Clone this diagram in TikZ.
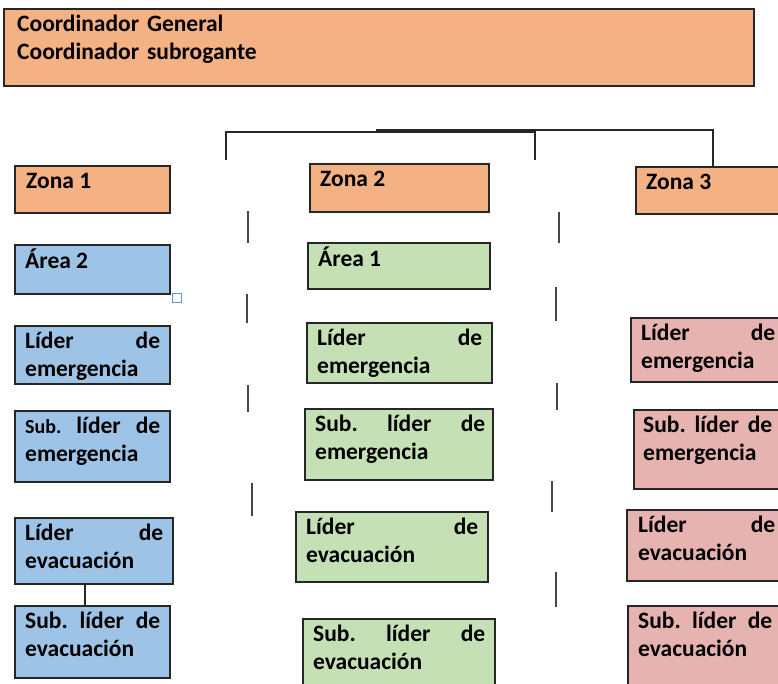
\documentclass[tikz,border=0pt]{standalone}
\usepackage{fontspec}
\setmainfont{Carlito}
\definecolor{orangefill}{HTML}{F4B183}
\definecolor{bluefill}{HTML}{9DC3E6}
\definecolor{greenfill}{HTML}{C5E0B4}
\definecolor{pinkfill}{HTML}{E6B3B1}
\definecolor{edge}{HTML}{262626}
\definecolor{handle}{HTML}{5B9BD5}
\newcommand\gapfill{\hskip 0pt plus 1fill\relax}
\newcommand\fst{\rule{0pt}{17pt}}
\tikzset{
  bx/.style={draw=edge, line width=1.4pt, anchor=north west, inner sep=0pt, outer sep=0pt},
  tx/.style={anchor=north west, inner sep=0pt, align=left, font=\fontsize{23.5}{28}\selectfont\bfseries},
  sepline/.style={draw=edge!85, line width=2pt},
  conn/.style={draw=edge, line width=2pt},
}
\begin{document}
\begin{tikzpicture}[x=1pt,y=-1pt]
\useasboundingbox (0,0) rectangle (778,683);
\clip (0,0) rectangle (778,683);
% top box
\node[bx, fill=orangefill, minimum width=750pt, minimum height=77pt] (top) at (4,9) {};
\node[tx, text width=700pt] (ttop) at ([shift={(13pt,-5pt)}]top.north west) {\fst Coordinador General\\Coordinador subrogante};
% zones
\node[bx, fill=orangefill, minimum width=155pt, minimum height=47pt] (z1) at (15,166) {};
\node[tx] (tz1) at ([shift={(11pt,-5pt)}]z1.north west) {\fst Zona 1};
\node[bx, fill=orangefill, minimum width=179pt, minimum height=48pt] (z2) at (310,164) {};
\node[tx] (tz2) at ([shift={(10pt,-5pt)}]z2.north west) {\fst Zona 2};
\node[bx, fill=orangefill, minimum width=154pt, minimum height=47pt] (z3) at (636,167) {};
\node[tx] (tz3) at ([shift={(10pt,-5pt)}]z3.north west) {\fst Zona 3};
% left column
\node[bx, fill=bluefill, minimum width=155pt, minimum height=49pt] (a2) at (15,245) {};
\node[tx] (ta2) at ([shift={(10pt,-4pt)}]a2.north west) {\fst Área 2};
\node[bx, fill=bluefill, minimum width=155pt, minimum height=58pt] (le1) at (15,326) {};
\node[tx, text width=135pt] (tle1) at ([shift={(10pt,-5pt)}]le1.north west) {\fst Líder\gapfill de\\emergencia};
\node[bx, fill=bluefill, minimum width=155pt, minimum height=71pt] (se1) at (15,411) {};
\node[tx, text width=135pt] (tse1) at ([shift={(10pt,-5pt)}]se1.north west) {\fst{\fontsize{20}{28}\selectfont Sub.}\gapfill líder\gapfill de\\emergencia};
\node[bx, fill=bluefill, minimum width=158pt, minimum height=66pt] (lv1) at (15,518) {};
\node[tx, text width=138pt] (tlv1) at ([shift={(10pt,-5pt)}]lv1.north west) {\fst Líder\gapfill de\\evacuación};
\node[bx, fill=bluefill, minimum width=155pt, minimum height=72pt] (sv1) at (15,606) {};
\node[tx, text width=135pt] (tsv1) at ([shift={(10pt,-5pt)}]sv1.north west) {\fst Sub.\gapfill líder\gapfill de\\evacuación};
% middle column
\node[bx, fill=greenfill, minimum width=182pt, minimum height=46pt] (a1) at (308,243) {};
\node[tx] (ta1) at ([shift={(10pt,-4pt)}]a1.north west) {\fst Área 1};
\node[bx, fill=greenfill, minimum width=185pt, minimum height=60pt] (le2) at (307,323) {};
\node[tx, text width=165pt] (tle2) at ([shift={(10pt,-5pt)}]le2.north west) {\fst Líder\gapfill de\\emergencia};
\node[bx, fill=greenfill, minimum width=188pt, minimum height=71pt] (se2) at (305,409) {};
\node[tx, text width=170pt] (tse2) at ([shift={(10pt,-5pt)}]se2.north west) {\fst Sub.\gapfill líder\gapfill de\\emergencia};
\node[bx, fill=greenfill, minimum width=192pt, minimum height=70pt] (lv2) at (296,512) {};
\node[tx, text width=172pt] (tlv2) at ([shift={(10pt,-5pt)}]lv2.north west) {\fst Líder\gapfill de\\evacuación};
\node[bx, fill=greenfill, minimum width=192pt, minimum height=75pt] (sv2) at (303,619) {};
\node[tx, text width=172pt] (tsv2) at ([shift={(10pt,-5pt)}]sv2.north west) {\fst Sub.\gapfill líder\gapfill de\\evacuación};
% right column
\node[bx, fill=pinkfill, minimum width=159pt, minimum height=64pt] (le3) at (631,318) {};
\node[tx, text width=134pt] (tle3) at ([shift={(10pt,-5pt)}]le3.north west) {\fst Líder\gapfill de\\emergencia};
\node[bx, fill=pinkfill, minimum width=156pt, minimum height=79pt] (se3) at (634,410) {};
\node[tx, text width=129pt] (tse3) at ([shift={(9pt,-5pt)}]se3.north west) {\fst Sub.\gapfill líder\gapfill de\\emergencia};
\node[bx, fill=pinkfill, minimum width=163pt, minimum height=71pt] (lv3) at (627,510) {};
\node[tx, text width=137pt] (tlv3) at ([shift={(11pt,-5pt)}]lv3.north west) {\fst Líder\gapfill de\\evacuación};
\node[bx, fill=pinkfill, minimum width=162pt, minimum height=85pt] (sv3) at (628,606) {};
\node[tx, text width=134pt] (tsv3) at ([shift={(10pt,-5pt)}]sv3.north west) {\fst Sub.\gapfill líder\gapfill de\\evacuación};
% selection handle
\draw[handle, line width=1pt] (172,293) rectangle (181,302);
% bracket connectors
\coordinate (bl) at (226,160);
\coordinate (bm) at (535,160);
\coordinate (bs) at (376,130);
\draw[conn, line width=1.8pt] (bl) -- (226,132) -- (535,132) -- (bm);
\draw[conn, line width=2.4pt] (bs) -- (713,130) -- (z3.north);
\draw[conn] ([xshift=70pt]lv1.south west) -- ([xshift=70pt]sv1.north west);
% dashed separators
\draw[sepline] (248,211) -- (248,243);
\draw[sepline] (247,294) -- (247,323);
\draw[sepline] (248,385) -- (248,412);
\draw[sepline] (252,483) -- (252,516);
\draw[sepline] (559,212) -- (559,243);
\draw[sepline] (556,287) -- (556,321);
\draw[sepline] (557,383) -- (557,410);
\draw[sepline] (552,481) -- (552,512);
\draw[sepline] (556,572) -- (556,607);
\end{tikzpicture}
\end{document}
